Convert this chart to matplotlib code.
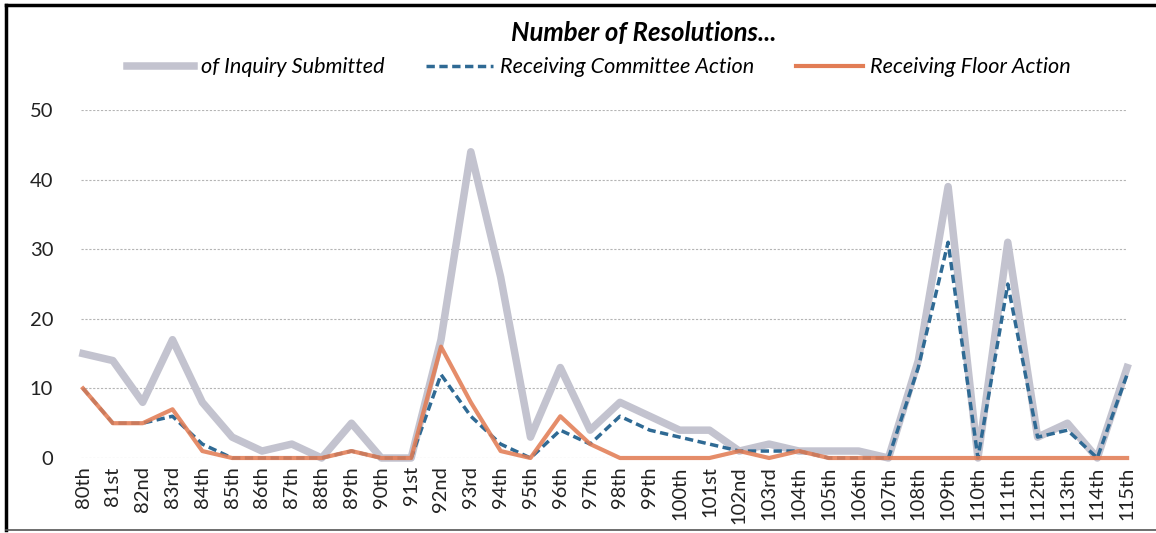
import matplotlib
matplotlib.use("Agg")
import matplotlib.pyplot as plt
from matplotlib.lines import Line2D

plt.rcParams['font.family'] = ['Lato', 'DejaVu Sans']

congresses = ["80th", "81st", "82nd", "83rd", "84th", "85th", "86th", "87th", "88th",
              "89th", "90th", "91st", "92nd", "93rd", "94th", "95th", "96th", "97th",
              "98th", "99th", "100th", "101st", "102nd", "103rd", "104th", "105th",
              "106th", "107th", "108th", "109th", "110th", "111th", "112th", "113th",
              "114th", "115th"]
inquiry = [15, 14, 8, 17, 8, 3, 1, 2, 0, 5, 0, 0, 17, 44, 26, 3, 13, 4,
           8, 6, 4, 4, 1, 2, 1, 1, 1, 0, 14, 39, 0, 31, 3, 5, 0, 13]
committee = [10, 5, 5, 6, 2, 0, 0, 0, 0, 1, 0, 0, 12, 6, 2, 0, 4, 2,
             6, 4, 3, 2, 1, 1, 1, 0, 0, 0, 13, 31, 0, 25, 3, 4, 0, 12]
floor = [10, 5, 5, 7, 1, 0, 0, 0, 0, 1, 0, 0, 16, 8, 1, 0, 6, 2,
         0, 0, 0, 0, 1, 0, 1, 0, 0, 0, 0, 0, 0, 0, 0, 0, 0, 0]
y_ticks = [0, 10, 20, 30, 40, 50]

GRAY = "#c3c3cf"
BLUE = "#2f6a94"
ORANGE = "#e27d55"
DASH = (0, (2.4, 1.3))

fig = plt.figure(figsize=(11.56, 5.33), dpi=100)
ax = fig.add_axes([0.070, 0.1407, 0.905, 0.6529])

x = list(range(len(congresses)))
ax.plot(x, inquiry, color=GRAY, lw=5.4, solid_joinstyle="round", zorder=3, clip_on=False)
ax.plot(x, committee, color=BLUE, lw=2.5, ls=DASH, zorder=4, clip_on=False)
ax.plot(x, floor, color=ORANGE, lw=3.0, alpha=0.88, zorder=5, clip_on=False)

ax.set_xlim(-0.07, len(congresses) - 1)
ax.set_ylim(0, 50)
ax.set_yticks(y_ticks)
ax.set_xticks(x)
ax.set_xticklabels(congresses, rotation=90, fontsize=14.5)
ax.tick_params(axis="y", length=0, pad=20, labelsize=14.5, labelcolor="#222222")
ax.tick_params(axis="x", length=0, pad=6, labelcolor="#222222")
ax.grid(axis="y", color="#b5b5b5", ls=(0, (2, 1.5)), lw=0.8, zorder=0)
for s in ax.spines.values():
    s.set_visible(False)

fig.text(0.557, 0.938, "Number of Resolutions...", ha="center", va="center",
         fontsize=18.5, fontweight="bold", fontstyle="italic")

handles = [Line2D([], [], color=GRAY, lw=5.4),
           Line2D([], [], color=BLUE, lw=2.5, ls=DASH),
           Line2D([], [], color=ORANGE, lw=3.0)]
labels = ["of Inquiry Submitted", "Receiving Committee Action", "Receiving Floor Action"]
fig.legend(handles, labels, loc="center", bbox_to_anchor=(0.518, 0.874), ncol=3,
           frameon=False, handlelength=3.1, handletextpad=0.32, columnspacing=1.9,
           prop={"size": 15.6, "style": "italic"})

# chart frame
fig.add_artist(Line2D([0.0055, 0.0055], [0.005, 0.991], color="black", lw=2.5,
                      transform=fig.transFigure))
fig.add_artist(Line2D([0.0055, 1.0], [0.991, 0.991], color="black", lw=2.5,
                      transform=fig.transFigure))
fig.add_artist(Line2D([0.0055, 1.0], [0.006, 0.006], color="#555555", lw=1.2,
                      transform=fig.transFigure))

plt.savefig("out.png", dpi=100)
plt.close()
